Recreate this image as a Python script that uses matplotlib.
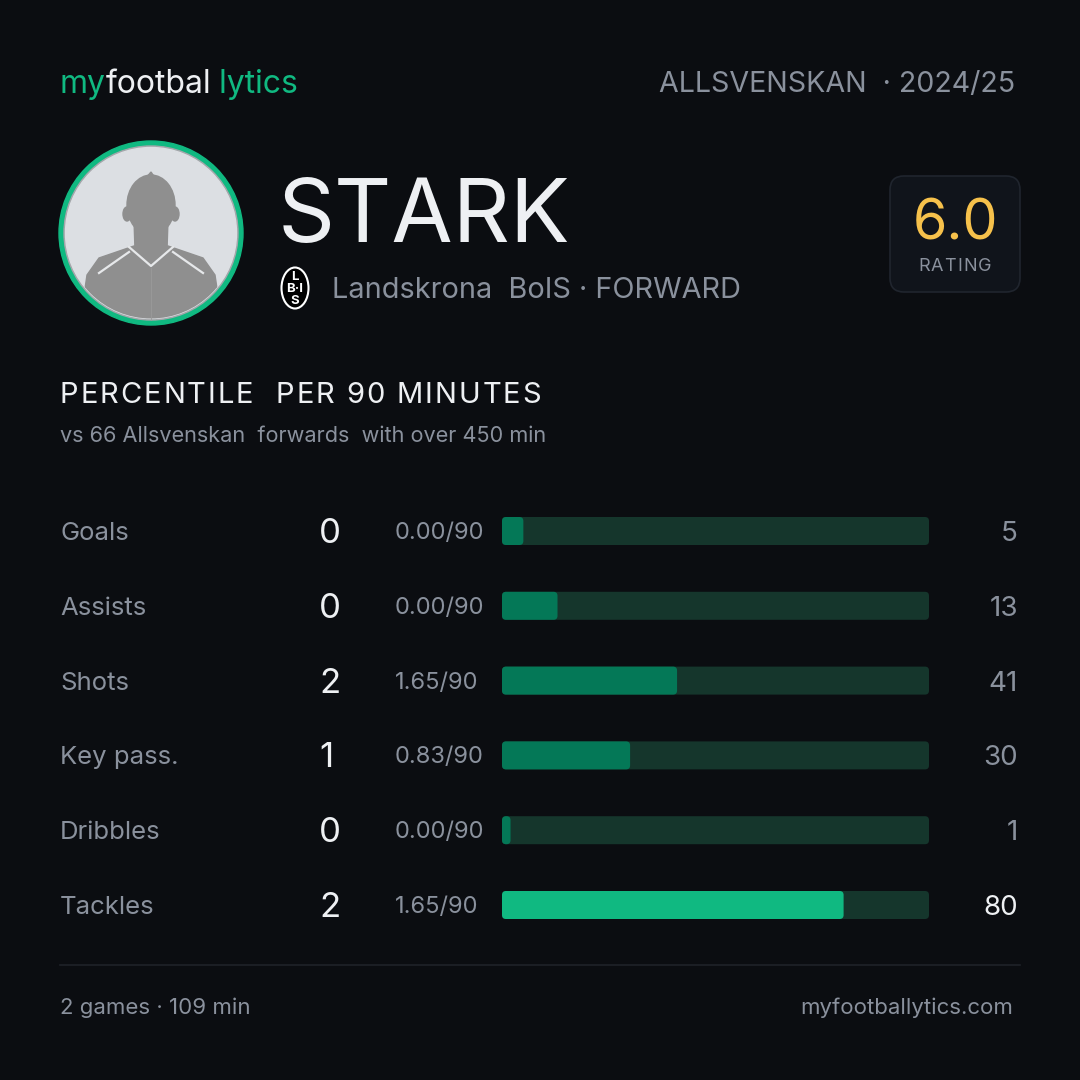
import matplotlib
matplotlib.use("Agg")
import matplotlib.pyplot as plt
from matplotlib.patches import Circle, Ellipse, FancyBboxPatch, Polygon
from matplotlib.lines import Line2D

plt.rcParams['font.family'] = ['Inter', 'DejaVu Sans']

# data
player = "STARK"
club = "Landskrona  BoIS"
position = "FORWARD"
league = "ALLSVENSKAN"
season = "2024/25"
rating = "6.0"
metrics = ["Goals", "Assists", "Shots", "Key pass.", "Dribbles", "Tackles"]
totals = [0, 0, 2, 1, 0, 2]
per90 = ["0.00/90", "0.00/90", "1.65/90", "0.83/90", "0.00/90", "1.65/90"]
percentiles = [5, 13, 41, 30, 1, 80]
games = 2
minutes = 109
pool = 66

BG = "#0b0d11"
WHITE = "#eef0f3"
GREY = "#8a919d"
GREEN = "#10b981"
DARK_GREEN = "#047857"
TRACK = "#15362c"

fig = plt.figure(figsize=(10.8, 10.8), dpi=100, facecolor=BG)
ax = fig.add_axes([0, 0, 1, 1])
ax.set_xlim(0, 1080)
ax.set_ylim(1080, 0)
ax.axis("off")
ax.set_facecolor(BG)
fig.canvas.draw()
r = fig.canvas.get_renderer()


def spaced_text(x, y, s, gap, **kw):
    # draw one char at a time to get letter spacing
    for ch in s:
        t = ax.text(x, y, ch, ha="left", va="baseline", **kw)
        x += t.get_window_extent(renderer=r).width + gap


# header
x = 60
for part, col in [("my", GREEN), ("footbal", WHITE), (" lytics", GREEN)]:
    t = ax.text(x, 93, part, color=col, fontsize=23, va="baseline", ha="left")
    x += t.get_window_extent(renderer=r).width - (2 if part == "footbal" else 0)
ax.text(1015, 92, league + "  · " + season, color=GREY, fontsize=20.6,
        va="baseline", ha="right")

# avatar
cx, cy = 151, 233
ax.add_patch(Circle((cx, cy), 92, color=GREEN, zorder=2))
ax.add_patch(Circle((cx, cy), 87, color="#a4a7ab", zorder=3))
inner = Circle((cx, cy), 85.5, color="#dcdfe3", zorder=4)
ax.add_patch(inner)
body_col = "#8f8f8f"
parts = [
    Ellipse((cx, 205), 48, 60, color=body_col, zorder=5),
    Ellipse((cx - 24, 214), 8, 14, color=body_col, zorder=5),
    Ellipse((cx + 24, 214), 8, 14, color=body_col, zorder=5),
    Polygon([(cx - 5, 178), (cx, 172), (cx + 4, 178)], closed=True,
            color=body_col, zorder=5),
    Polygon([(cx - 17, 220), (cx + 17, 220), (cx + 16, 250), (cx - 16, 250)],
            closed=True, color=body_col, zorder=5),
    Polygon([(cx - 17, 246), (cx + 17, 246), (cx + 52, 258), (cx + 64, 275),
             (cx + 72, 330), (cx - 72, 330), (cx - 64, 275), (cx - 52, 258)],
            closed=True, color=body_col, zorder=5),
]
for p in parts:
    ax.add_patch(p)
    p.set_clip_path(inner)
for xs, ys in [([cx - 22, cx, cx + 22], [247, 266, 247]),
               ([cx - 52, cx - 22], [273, 252]),
               ([cx + 52, cx + 22], [273, 252])]:
    ln = Line2D(xs, ys, color="#e6e8ea", lw=1.6, zorder=6)
    ax.add_line(ln)
    ln.set_clip_path(inner)
ax.add_line(Line2D([cx, cx], [268, 320], color="#9a9a9a", lw=0.6, zorder=6))

# name and club
ax.text(278, 242, player, color=WHITE, fontsize=64, va="baseline", ha="left")
ax.add_patch(Ellipse((295, 288), 27, 41, facecolor="black", edgecolor="white",
                     lw=1.5, zorder=5))
for ty, s in [(277, "L"), (289, "B·I"), (301, "S")]:
    ax.text(295, ty, s, color="white", fontsize=9.5, fontweight="bold",
            ha="center", va="center", zorder=6)
ax.text(332, 298, club + " · " + position, color=GREY, fontsize=20.8,
        va="baseline", ha="left")

# rating box
ax.add_patch(FancyBboxPatch((890, 176), 130, 116,
                            boxstyle="round,pad=0,rounding_size=14",
                            facecolor="#10141b", edgecolor="#20252e", lw=1.2))
ax.text(955, 239, rating, color="#f6c14b", fontsize=40, ha="center", va="baseline")
spaced_text(918, 271, "RATING", 1.2, color=GREY, fontsize=13)

# section title
spaced_text(60, 403, "PERCENTILE  PER 90 MINUTES", 1.9, color=WHITE, fontsize=21)
ax.text(60, 442, f"vs {pool} Allsvenskan  forwards  with over 450 min",
        color=GREY, fontsize=15.6, va="baseline", ha="left")

# rows
row0, step = 531, 74.8
bar_l, bar_r = 502, 929
top = row0 - step / 2
bx = fig.add_axes([bar_l / 1080, 1 - (top + step * len(metrics)) / 1080,
                   (bar_r - bar_l) / 1080, step * len(metrics) / 1080])
bx.set_xlim(0, 100)
bx.set_ylim(len(metrics) - 0.5, -0.5)
bx.axis("off")
bar_h = 28 / step
aspect = ((bar_r - bar_l) / 100) / step
rad = 4 / ((bar_r - bar_l) / 100)
for i, name in enumerate(metrics):
    y = row0 + i * step
    ax.text(60, y + 9, name, color=GREY, fontsize=18.5, va="baseline", ha="left")
    ax.text(319, y + 12, str(totals[i]), color=WHITE, fontsize=25,
            va="baseline", ha="left")
    ax.text(395, y + 8, per90[i], color=GREY, fontsize=17, va="baseline", ha="left")
    pcol = WHITE if percentiles[i] >= 70 else GREY
    ax.text(1018, y + 10, str(percentiles[i]), color=pcol, fontsize=20,
            va="baseline", ha="right")
    bx.add_patch(FancyBboxPatch((0, i - bar_h / 2), 100, bar_h,
                                boxstyle=f"round,pad=0,rounding_size={rad}",
                                mutation_aspect=aspect, facecolor=TRACK, lw=0))
    fcol = GREEN if percentiles[i] >= 70 else DARK_GREEN
    bx.add_patch(FancyBboxPatch((0, i - bar_h / 2), max(percentiles[i], 2), bar_h,
                                boxstyle=f"round,pad=0,rounding_size={rad}",
                                mutation_aspect=aspect, facecolor=fcol, lw=0))

# footer
ax.add_line(Line2D([60, 1020], [965, 965], color="#1f2229", lw=1.2))
ax.text(60, 1014, f"{games} games · {minutes} min", color=GREY, fontsize=16,
        va="baseline", ha="left")
ax.text(1013, 1014, "myfootballytics.com", color=GREY, fontsize=16,
        va="baseline", ha="right")

fig.savefig("out.png", dpi=100, facecolor=BG)
